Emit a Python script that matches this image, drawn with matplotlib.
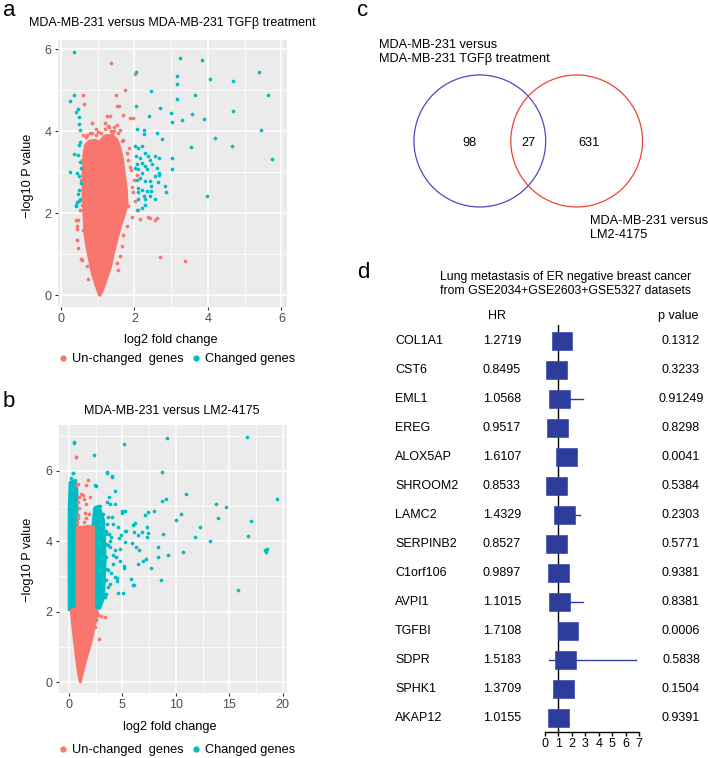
import numpy as np
import matplotlib
matplotlib.use("Agg")
import matplotlib.pyplot as plt
from matplotlib.lines import Line2D
from matplotlib.patches import Polygon, Circle, Rectangle
from matplotlib.transforms import blended_transform_factory

plt.rcParams['font.family'] = ['Liberation Sans', 'DejaVu Sans']

# ---------------- data ----------------
# panel a : changed genes (teal)
teal_a_x = [0.36, 0.24, 0.35, 0.42, 0.46, 0.48, 0.49, 0.51, 0.53, 0.49, 0.36, 0.47, 0.52, 0.26,
            0.44, 0.50, 0.55, 0.49, 0.47, 0.52, 0.44, 0.50, 0.40, 0.42, 0.55,
            2.03, 2.05, 2.06, 2.26, 2.26, 2.39, 2.45, 2.69, 2.60, 2.74, 2.99, 3.02, 3.02, 3.02,
            2.84, 2.86, 3.15, 3.15, 3.17, 3.24, 3.28, 3.56, 3.66, 3.53, 3.84, 3.88, 3.96, 4.06,
            4.19, 4.65, 4.68, 4.68, 5.40, 5.45, 5.62, 5.75,
            2.02, 2.11, 2.20, 2.04, 2.15, 2.28, 2.37, 2.06, 2.20, 2.28, 2.42, 2.55, 2.68, 2.48,
            2.60, 2.67, 2.55, 2.33, 2.11, 2.20, 2.06, 2.28, 2.42, 2.11, 2.20, 2.33, 2.46, 2.64,
            2.11, 2.28, 2.42, 2.55, 2.20, 2.06, 2.28, 2.68, 2.02, 2.15, 2.44, 2.27, 2.09]
teal_a_y = [5.94, 4.73, 4.87, 4.46, 4.54, 4.35, 4.18, 4.04, 3.73, 3.66, 3.44, 3.41, 3.25, 3.01,
            2.98, 2.90, 2.74, 2.58, 2.46, 2.34, 2.27, 2.29, 2.17, 2.21, 3.10,
            5.44, 4.61, 4.06, 4.04, 3.93, 4.36, 4.97, 4.57, 3.96, 3.81, 4.44, 4.22, 3.35, 3.08,
            2.66, 2.51, 4.79, 5.34, 5.16, 5.77, 4.27, 4.42, 4.87, 3.62, 5.74, 4.30, 2.42, 5.26,
            3.84, 3.63, 5.23, 4.48, 5.43, 4.04, 4.88, 3.33,
            3.63, 3.59, 3.63, 3.39, 3.35, 3.47, 3.39, 3.19, 3.23, 3.15, 3.31, 3.39, 3.35, 3.19,
            3.11, 2.98, 2.90, 3.07, 3.07, 2.98, 2.82, 2.78, 2.78, 2.62, 2.58, 2.54, 2.54, 2.76,
            2.34, 2.34, 2.42, 2.34, 2.13, 2.09, 2.21, 2.94, 3.11, 2.86, 2.66, 2.43, 2.51]
# panel a : un-changed genes (red), scattered points around the cloud
red_a_x = [1.35, 2.02, 1.75, 0.61, 0.64, 1.50, 1.52, 1.58, 1.26, 1.33, 1.68, 1.88, 1.95,
           2.69, 3.38, 2.57, 2.37, 2.15, 0.40, 0.44, 0.46, 0.55, 0.44,
           2.06, 2.02, 2.11, 1.93, 1.97, 1.83, 1.93, 1.79, 1.70, 1.65, 1.61, 1.52, 1.56,
           2.43, 2.62, 1.83, 1.88, 1.79, 1.70, 1.61, 1.52, 1.20, 0.84, 0.61, 0.79,
           0.47, 0.44, 0.56, 0.61, 0.43, 0.52, 0.70, 0.74, 1.90, 1.98, 1.85, 1.75,
           0.55, 0.58, 0.57, 0.95, 1.30, 1.45, 1.40,
           0.70, 0.85, 0.95, 1.20, 1.35, 1.45, 0.68, 1.10, 1.55, 1.65, 1.02, 1.28]
red_a_y = [5.66, 5.40, 5.01, 4.87, 4.65, 4.87, 4.62, 4.61, 4.38, 4.38, 4.40, 4.31, 4.32,
           0.93, 0.83, 1.85, 1.91, 1.87, 1.85, 1.36, 1.16, 0.88, 1.61,
           2.94, 2.29, 2.09, 2.65, 2.53, 2.17, 1.92, 1.68, 1.48, 1.20, 0.95, 0.79, 0.63,
           1.89, 1.89, 3.30, 3.14, 3.46, 3.79, 4.03, 4.15, 4.19, 4.19, 3.91, 3.95,
           1.84, 1.36, 0.87, 1.60, 1.68, 2.09, 0.71, 0.39, 3.05, 2.80, 3.60, 2.40,
           2.80, 3.30, 2.20, 4.05, 4.10, 4.00, 3.92,
           3.90, 3.95, 3.90, 4.05, 4.00, 4.10, 3.85, 3.95, 3.95, 3.75, 3.98, 4.12]
# panel a : outline of the dense red cloud
blob_a_x = [1.05, 0.95, 0.85, 0.78, 0.70, 0.65, 0.62, 0.60, 0.60, 0.62, 0.66, 0.75, 0.90,
            1.04, 1.07, 1.10, 1.18, 1.30, 1.42, 1.52, 1.60, 1.68, 1.72, 1.78, 1.80,
            1.70, 1.58, 1.45, 1.35, 1.22, 1.12]
blob_a_y = [0.00, 0.25, 0.55, 0.85, 1.20, 1.50, 2.00, 2.50, 3.00, 3.40, 3.65, 3.75, 3.78,
            3.75, 3.00, 3.80, 3.88, 3.90, 3.88, 3.80, 3.62, 3.30, 3.00, 2.60, 2.20,
            1.90, 1.55, 1.10, 0.70, 0.35, 0.10]

# panel b : changed genes (teal)
teal_b_x = [0.44, 0.44, 2.34, 5.16, 9.22, 16.69, 0.37, 3.56, 4.03, 4.31, 8.75, 2.44, 2.56,
            10.94, 9.09, 8.66, 19.44, 13.75, 14.69, 10.44, 9.97, 13.91, 17.03, 12.22, 11.81,
            13.22, 16.75, 10.63, 9.31, 18.38, 18.50, 18.41, 15.84, 8.59, 8.31, 8.31, 8.81,
            7.66, 7.25, 7.34, 7.38, 7.31, 7.16, 7.41, 7.94, 6.88, 6.47, 6.19, 6.03, 6.06, 5.94,
            6.31, 6.56, 6.47, 6.94, 5.84, 6.00, 6.13, 5.06, 4.59, 4.50, 4.53, 5.13, 5.19, 4.81,
            4.75, 5.25, 5.31, 4.84, 4.69, 5.25, 5.00, 5.25, 5.00, 3.72, 3.56, 3.81, 4.28, 2.88,
            3.19, 3.66, 4.13, 3.50, 3.97, 3.44, 3.81, 4.28, 3.03, 3.50, 4.13, 3.19, 3.66, 3.03,
            3.44, 3.81, 3.03, 3.34, 2.88, 3.19, 4.28, 4.44, 3.75, 3.25, 4.59, 4.06,
            0.19, 0.16, 0.06, 0.31, 0.40, 3.52, 4.00, 0.10, 0.55, 0.20, 0.60,
            3.60, 3.70, 3.55, 3.65, 3.50, 3.80, 3.45, 3.90, 2.95, 4.10]
teal_b_y = [6.83, 6.79, 6.45, 6.77, 6.94, 6.95, 5.93, 5.95, 5.84, 5.44, 5.96, 5.61, 5.58,
            5.35, 5.21, 5.14, 5.20, 5.06, 4.96, 4.76, 4.61, 4.65, 4.57, 4.40, 4.11,
            4.02, 4.16, 3.68, 3.61, 3.74, 3.77, 3.70, 2.61, 2.90, 3.55, 3.83, 4.21,
            3.25, 3.49, 4.12, 4.24, 4.40, 4.75, 4.84, 4.86, 4.25, 4.17, 4.51, 4.45, 4.25, 3.95,
            3.83, 3.74, 3.36, 3.45, 2.93, 2.77, 2.76, 2.53, 2.54, 2.87, 2.96, 3.25, 3.31, 3.45,
            3.78, 4.28, 4.30, 4.19, 4.10, 3.98, 4.87, 4.87, 4.80, 5.25, 5.12, 5.06, 5.06, 4.86,
            4.78, 4.68, 4.49, 4.30, 4.12, 3.93, 3.83, 3.74, 3.74, 3.55, 3.36, 3.36, 3.17, 3.07,
            2.89, 2.79, 2.60, 2.41, 2.32, 2.98, 2.98, 3.55, 4.21, 4.07, 4.40, 4.68,
            5.53, 5.44, 5.68, 5.72, 5.94, 5.97, 5.83, 5.60, 5.75, 5.80, 5.65,
            4.50, 3.90, 3.20, 2.70, 2.50, 4.00, 4.20, 3.10, 5.00, 3.60]
red_b_x = [0.62, 1.78, 1.63, 0.88, 0.62, 2.00, 1.88, 2.81, 3.34, 3.03, 2.56, 0.65,
           0.80, 0.85, 0.90, 0.82, 0.95, 0.88, 1.45, 1.50, 1.55, 1.42, 1.60, 1.35, 1.15,
           2.62, 2.50, 2.75, 2.40, 0.25]
red_b_y = [6.39, 5.74, 5.61, 5.63, 5.61, 5.25, 4.78, 1.23, 1.84, 1.89, 1.80, 6.39,
           4.55, 4.75, 4.95, 5.10, 5.25, 4.65, 4.55, 4.80, 5.05, 5.20, 4.65, 5.30, 5.35,
           1.95, 1.75, 1.90, 1.55, 1.95]
blob_b_x = [1.06, 1.30, 1.60, 1.90, 2.20, 2.45, 2.65, 2.30, 2.30, 2.30, 1.80, 1.30, 0.75,
            0.75, 0.20, 0.35, 0.50, 0.65, 0.80, 0.95]
blob_b_y = [0.00, 0.30, 0.65, 0.95, 1.30, 1.70, 2.00, 2.10, 3.50, 4.40, 4.43, 4.40, 4.40,
            2.10, 2.05, 1.60, 1.20, 0.80, 0.45, 0.15]
tband_l_x = [0.02, 0.00, 0.02, 0.10, 0.40, 0.75, 0.80]
tband_l_y = [2.05, 3.50, 5.00, 5.65, 5.70, 5.50, 2.05]
tband_r_x = [2.25, 2.25, 2.40, 2.80, 3.25, 3.40, 3.25, 2.90]
tband_r_y = [2.05, 4.50, 4.95, 5.00, 4.60, 3.50, 2.40, 2.10]

# panel c : Venn counts
venn_counts = [98, 27, 631]
venn_labels = ["MDA-MB-231 versus\nMDA-MB-231 TGF\u03b2 treatment",
               "MDA-MB-231 versus\nLM2-4175"]

# panel d : forest plot
genes = ["COL1A1", "CST6", "EML1", "EREG", "ALOX5AP", "SHROOM2", "LAMC2", "SERPINB2",
         "C1orf106", "AVPI1", "TGFBI", "SDPR", "SPHK1", "AKAP12"]
hr_text = ["1.2719", "0.8495", "1.0568", "0.9517", "1.6107", "0.8533", "1.4329", "0.8527",
           "0.9897", "1.1015", "1.7108", "1.5183", "1.3709", "1.0155"]
p_text = ["0.1312", "0.3233", "0.91249", "0.8298", "0.0041", "0.5384", "0.2303", "0.5771",
          "0.9381", "0.8381", "0.0006", "0.5838", "0.1504", "0.9391"]
ci_low = [0.93, 0.62, 0.45, 0.60, 1.16, 0.55, 0.80, 0.50, 0.84, 0.43, 1.26, 0.30, 0.90, 0.78]
ci_high = [1.74, 1.17, 2.82, 1.50, 2.23, 1.32, 2.57, 1.46, 1.17, 2.80, 2.32, 6.74, 2.09, 1.32]

RED = "#F8766D"
TEAL = "#00BFC4"
VENN_BLUE = "#5048C0"
VENN_RED = "#EE4433"
BOX = "#2E3C9C"

W, H = 708, 758
fig = plt.figure(figsize=(W / 100, H / 100), dpi=100)


def px_rect(l, t, r, b):
    return [l / W, 1 - b / H, (r - l) / W, (b - t) / H]


def fx(x):
    return x / W


def fy(y):
    return 1 - y / H


def volcano(ax, xlim, ylim, xticks, yticks, xminor, yminor):
    ax.set_facecolor("#EBEBEB")
    for s in ax.spines.values():
        s.set_visible(False)
    ax.set_xlim(*xlim)
    ax.set_ylim(*ylim)
    ax.set_xticks(xticks)
    ax.set_yticks(yticks)
    ax.set_xticks(xminor, minor=True)
    ax.set_yticks(yminor, minor=True)
    ax.grid(True, which="major", color="white", lw=1.1)
    ax.grid(True, which="minor", color="white", lw=0.55)
    ax.set_axisbelow(True)
    ax.tick_params(which="major", length=2.5, width=0.8, color="#333333",
                   labelcolor="#4D4D4D", labelsize=9, pad=2)
    ax.tick_params(which="minor", length=0)


def blob(ax, xs, ys, color, z):
    ax.add_patch(Polygon(np.column_stack([xs, ys]), closed=True,
                         facecolor=color, edgecolor=color, lw=2.0, joinstyle="round", zorder=z))


def legend_at(y):
    handles = [Line2D([], [], marker="o", ls="", color=RED, ms=3.5),
               Line2D([], [], marker="o", ls="", color=TEAL, ms=3.5)]
    fig.legend(handles, ["Un-changed  genes", "Changed genes"], ncol=2, loc="center",
               bbox_to_anchor=(fx(176), fy(y)), frameon=False, fontsize=9.2,
               handletextpad=0.2, columnspacing=0.5, handlelength=1.0)


# ---------------- panel a ----------------
ax_a = fig.add_axes(px_rect(58, 40, 287, 307))
volcano(ax_a, (-0.08, 6.15), (-0.28, 6.22), [0, 2, 4, 6], [0, 2, 4, 6], [1, 3, 5], [1, 3, 5])
blob(ax_a, blob_a_x, blob_a_y, RED, 2)
ax_a.scatter(red_a_x, red_a_y, s=7, color=RED, lw=0, zorder=3)
ax_a.scatter(teal_a_x, teal_a_y, s=7, color=TEAL, lw=0, zorder=3)
fig.text(fx(172), fy(23), "MDA-MB-231 versus MDA-MB-231 TGF\u03b2 treatment",
         ha="center", va="center", fontsize=9)
fig.text(fx(171), fy(340), "log2 fold change", ha="center", va="center", fontsize=9.2)
fig.text(fx(28), fy(176), "\u2212log10 P value", ha="center", va="center",
         rotation=90, fontsize=9.2)
legend_at(359)
fig.text(fx(3), fy(16), "a", fontsize=16, va="baseline")

# ---------------- panel b ----------------
ax_b = fig.add_axes(px_rect(59, 425, 287, 693))
volcano(ax_b, (-0.93, 20.4), (-0.31, 7.3), [0, 5, 10, 15, 20], [0, 2, 4, 6],
        [2.5, 7.5, 12.5, 17.5], [1, 3, 5, 7])
blob(ax_b, tband_l_x, tband_l_y, TEAL, 2)
blob(ax_b, tband_r_x, tband_r_y, TEAL, 2)
ax_b.scatter(teal_b_x, teal_b_y, s=7, color=TEAL, lw=0, zorder=2)
blob(ax_b, blob_b_x, blob_b_y, RED, 3)
ax_b.scatter(red_b_x, red_b_y, s=7, color=RED, lw=0, zorder=3)
fig.text(fx(172), fy(411), "MDA-MB-231 versus LM2-4175", ha="center", va="center", fontsize=9)
fig.text(fx(170), fy(727), "log2 fold change", ha="center", va="center", fontsize=9.2)
fig.text(fx(28), fy(560), "\u2212log10 P value", ha="center", va="center",
         rotation=90, fontsize=9.2)
legend_at(750)
fig.text(fx(3), fy(407), "b", fontsize=16, va="baseline")

# ---------------- panel c ----------------
ax_c = fig.add_axes(px_rect(400, 60, 660, 225))
ax_c.set_xlim(-1.947, 2.0)
ax_c.set_ylim(-1.273, 1.227)
ax_c.axis("off")
d = 1.47
ax_c.add_patch(Circle((-d / 2, 0), 1, fill=False, ec=VENN_BLUE, lw=0.9))
ax_c.add_patch(Circle((d / 2, 0), 1, fill=False, ec=VENN_RED, lw=0.9))
for xc, n in zip([-0.90, 0.0, 0.92], venn_counts):
    ax_c.text(xc, -0.03, str(n), ha="center", va="center", fontsize=9.2)
fig.text(fx(379), fy(52), venn_labels[0], ha="left", va="center", fontsize=9.2,
         linespacing=1.3)
fig.text(fx(590), fy(228), venn_labels[1], ha="left", va="center", fontsize=9.2,
         linespacing=1.3)
fig.text(fx(357), fy(16), "c", fontsize=16, va="baseline")

# ---------------- panel d ----------------
ax_f = fig.add_axes(px_rect(545, 325, 639, 732))
ax_f.set_xlim(0, 7)
ax_f.set_ylim(13.48, -0.55)
for side in ["left", "top", "right"]:
    ax_f.spines[side].set_visible(False)
ax_f.spines["bottom"].set_bounds(0, 7)
ax_f.spines["bottom"].set_linewidth(1.0)
ax_f.set_xticks(range(0, 8))
ax_f.set_yticks([])
ax_f.tick_params(axis="x", direction="out", length=3, width=1.0, labelsize=9, pad=1.5)
ax_f.patch.set_alpha(0)
ax_f.axvline(1, color="black", lw=1.0, zorder=1)
box_w, box_h = 1.54, 0.62
for i, (h, lo, hi) in enumerate(zip(hr_text, ci_low, ci_high)):
    hv = float(h)
    ax_f.plot([lo, hi], [i, i], color=BOX, lw=1.0, zorder=2, clip_on=False)
    ax_f.add_patch(Rectangle((hv - box_w / 2, i - box_h / 2), box_w, box_h,
                             facecolor=BOX, edgecolor="#3A4AB0", lw=0.5, zorder=3,
                             clip_on=False))

tr = blended_transform_factory(fig.transFigure, ax_f.transData)
for i, (g, h, p) in enumerate(zip(genes, hr_text, p_text)):
    ax_f.text(fx(395), i, g, transform=tr, ha="left", va="center", fontsize=9)
    ax_f.text(fx(483), i, h, transform=tr, ha="left", va="center", fontsize=9)
    ax_f.text(fx(681), i, p, transform=tr, ha="center", va="center", fontsize=9)
ax_f.text(fx(497), -0.86, "HR", transform=tr, ha="center", va="center", fontsize=9)
ax_f.text(fx(678), -0.86, "p value", transform=tr, ha="center", va="center", fontsize=9)
fig.text(fx(566), fy(284), "Lung metastasis of ER negative breast cancer\n"
         "from GSE2034+GSE2603+GSE5327 datasets", ha="center", va="center",
         fontsize=8.8, linespacing=1.25)
fig.text(fx(357), fy(278), "d", fontsize=16, va="baseline")

fig.savefig("out.png", dpi=100)
